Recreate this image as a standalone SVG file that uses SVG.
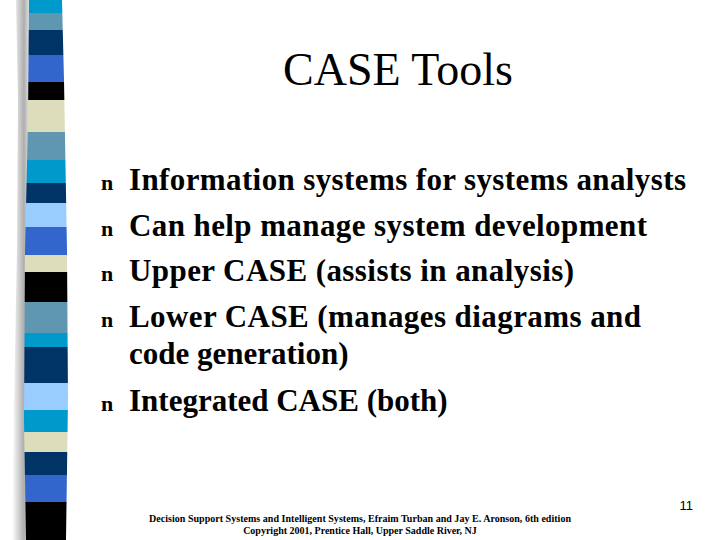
<svg xmlns="http://www.w3.org/2000/svg" width="720" height="540" viewBox="0 0 720 540">
<defs>
<linearGradient id="sh" x1="0" x2="1"><stop offset="0" stop-color="#fff"/><stop offset="0.6" stop-color="#999"/><stop offset="1" stop-color="#fff"/></linearGradient>
<clipPath id="cp"><path d="M29,0 L62,0 L64,80 L67,250 L68,400 L66,540 L26,540 L24,420 L25,250 L28,120 Z"/></clipPath>
<style>.b{font-family:"Liberation Serif",serif;font-weight:bold;font-size:31px;fill:#000}.f{font-family:"Liberation Serif",serif;font-weight:bold;font-size:10px}.m{fill:#0099cc}.s{fill:#5f97b0}.n{fill:#003366}.u{fill:#3366cc}.k{fill:#000}.c{fill:#ddddbb}.l{fill:#99ccff}</style>
</defs>
<rect width="720" height="540" fill="#fff"/>
<g id="stripe">
<path d="M16,0 L32,0 L30,120 L27,250 L26,420 L28,540 L12,540 L14,400 L17,250 L18,100 Z" fill="url(#sh)" opacity="0.8"/>
<g clip-path="url(#cp)">
<rect class="m" x="0" y="0" width="80" height="13"/><rect class="s" x="0" y="13" width="80" height="17"/><rect class="n" x="0" y="30" width="80" height="25"/><rect class="u" x="0" y="55" width="80" height="27"/><rect class="k" x="0" y="82" width="80" height="18"/><rect class="c" x="0" y="100" width="80" height="32"/><rect class="s" x="0" y="132" width="80" height="28"/><rect class="m" x="0" y="160" width="80" height="23"/><rect class="n" x="0" y="183" width="80" height="20"/><rect class="l" x="0" y="203" width="80" height="24"/><rect class="u" x="0" y="227" width="80" height="28"/><rect class="c" x="0" y="255" width="80" height="17"/><rect class="k" x="0" y="272" width="80" height="30"/><rect class="s" x="0" y="302" width="80" height="31"/><rect class="m" x="0" y="333" width="80" height="14"/><rect class="n" x="0" y="347" width="80" height="36"/><rect class="l" x="0" y="383" width="80" height="27"/><rect class="m" x="0" y="410" width="80" height="22"/><rect class="c" x="0" y="432" width="80" height="20"/><rect class="n" x="0" y="452" width="80" height="23"/><rect class="u" x="0" y="475" width="80" height="27"/><rect class="k" x="0" y="502" width="80" height="38"/>
</g>
</g>
<g id="title"><text x="398" y="85" text-anchor="middle" font-family="Liberation Serif,serif" font-size="46">CASE Tools</text></g>
<g id="bullets">
<g fill="#000" font-family="Liberation Serif,serif" font-size="22" font-weight="bold">
<text x="101" y="190">n</text><text x="101" y="236">n</text><text x="101" y="281">n</text><text x="101" y="327">n</text><text x="101" y="411">n</text>
</g>
<text class="b" x="129" y="190" textLength="557">Information systems for systems analysts</text>
<text class="b" x="129" y="236" textLength="518">Can help manage system development</text>
<text class="b" x="129" y="281" textLength="445">Upper CASE (assists in analysis)</text>
<text class="b" x="129" y="327" textLength="512">Lower CASE (manages diagrams and</text>
<text class="b" x="129" y="364">code generation)</text>
<text class="b" x="129" y="411">Integrated CASE (both)</text>
</g>
<g id="footer">
<text x="693" y="510" text-anchor="end" font-family="Liberation Sans,sans-serif" font-size="13">11</text>
<text class="f" x="360" y="522" text-anchor="middle" textLength="422">Decision Support Systems and Intelligent Systems, Efraim Turban and Jay E. Aronson, 6th edition</text>
<text class="f" x="360" y="534" text-anchor="middle">Copyright 2001, Prentice Hall, Upper Saddle River, NJ</text>
</g>
</svg>
